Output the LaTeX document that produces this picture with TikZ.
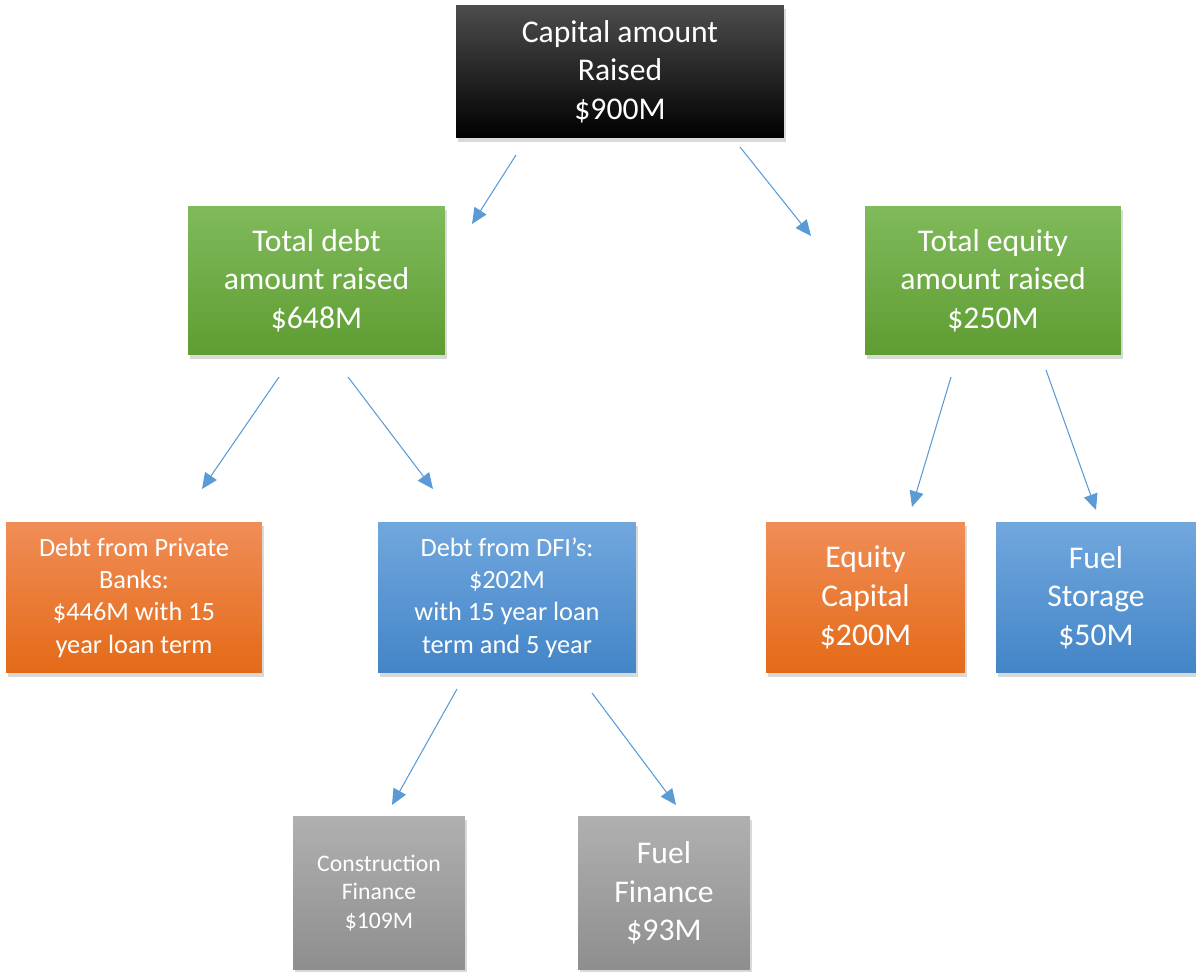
\documentclass[tikz,border=0pt]{standalone}
\usepackage{fontspec}
\setmainfont{Carlito}
\usetikzlibrary{arrows.meta,shadows}

\definecolor{greenTop}{HTML}{80BA5B}
\definecolor{greenBot}{HTML}{5E9D32}
\definecolor{orangeTop}{HTML}{F08D57}
\definecolor{orangeBot}{HTML}{E46A17}
\definecolor{blueTop}{HTML}{71A7DD}
\definecolor{blueBot}{HTML}{4385C8}
\definecolor{grayTop}{HTML}{B0B0B0}
\definecolor{grayBot}{HTML}{8E8E8E}
\definecolor{arrowBlue}{HTML}{5B9BD5}

\tikzset{
  box/.style={rectangle,align=center,text=white,inner sep=2pt,
    drop shadow={shadow xshift=1pt,shadow yshift=-2.5pt,opacity=0.3}},
  blackbox/.style={box,top color=black!70,middle color=black,bottom color=black},
  greenbox/.style={box,top color=greenTop,bottom color=greenBot},
  orangebox/.style={box,top color=orangeTop,bottom color=orangeBot},
  bluebox/.style={box,top color=blueTop,bottom color=blueBot},
  graybox/.style={box,top color=grayTop,bottom color=grayBot},
  big/.style={font=\fontsize{18}{22}\selectfont},
  mid/.style={font=\fontsize{15}{18.4}\selectfont},
  small/.style={font=\fontsize{13.5}{16.4}\selectfont},
  link/.style={draw=arrowBlue,line width=0.6pt,
    -{Triangle[width=8pt,length=9pt]}}
}

\begin{document}
\begin{tikzpicture}[x=0.02cm,y=-0.02cm]
  \useasboundingbox (0,0) rectangle (1196,972);

  % Top level
  \node[blackbox,big,minimum width=6.56cm,minimum height=2.66cm] (capital) at (620,71.5)
    {Capital amount\\Raised\\\$900M};

  % Second level
  \node[greenbox,big,minimum width=5.14cm,minimum height=2.98cm] (debt) at (316.5,280.5)
    {Total debt\\amount raised\\\$648M};
  \node[greenbox,big,minimum width=5.12cm,minimum height=2.98cm] (equity) at (993,280.5)
    {Total equity\\amount raised\\\$250M};

  % Third level
  \node[orangebox,mid,minimum width=5.12cm,minimum height=3.02cm] (banks) at (134,597.5)
    {Debt from Private\\Banks:\\\$446M with 15\\year loan term};
  \node[bluebox,mid,minimum width=5.16cm,minimum height=3.02cm] (dfi) at (507,597.5)
    {Debt from DFI’s:\\\$202M\\with 15 year loan\\term and 5 year};
  \node[orangebox,big,minimum width=3.98cm,minimum height=3.02cm] (eqcap) at (865.5,597.5)
    {Equity\\Capital\\\$200M};
  \node[bluebox,big,minimum width=4cm,minimum height=3.02cm] (storage) at (1096,597.5)
    {Fuel\\Storage\\\$50M};

  % Fourth level
  \node[graybox,small,minimum width=3.44cm,minimum height=3.08cm] (construction) at (379,893)
    {Construction\\Finance\\\$109M};
  \node[graybox,big,minimum width=3.44cm,minimum height=3.08cm] (fuelfin) at (664,893)
    {Fuel\\Finance\\\$93M};

  % Arrow ends
  \coordinate (capL) at (516,155);  \coordinate (debtIn) at (472,224);
  \coordinate (capR) at (740,147);  \coordinate (eqIn) at (811,236);
  \coordinate (debtL) at (279,377); \coordinate (banksIn) at (202,489);
  \coordinate (debtR) at (348,377); \coordinate (dfiIn) at (433,489);
  \coordinate (eqL) at (951,377);   \coordinate (eqcapIn) at (912,507);
  \coordinate (eqR) at (1046,370);  \coordinate (storageIn) at (1096,510);
  \coordinate (dfiL) at (457,689);  \coordinate (constrIn) at (392,805);
  \coordinate (dfiR) at (592,693);  \coordinate (fuelIn) at (676,805);

  % Arrows
  \draw[link] (capL) -- (debtIn);
  \draw[link] (capR) -- (eqIn);
  \draw[link] (debtL) -- (banksIn);
  \draw[link] (debtR) -- (dfiIn);
  \draw[link] (eqL) -- (eqcapIn);
  \draw[link] (eqR) -- (storageIn);
  \draw[link] (dfiL) -- (constrIn);
  \draw[link] (dfiR) -- (fuelIn);
\end{tikzpicture}
\end{document}
